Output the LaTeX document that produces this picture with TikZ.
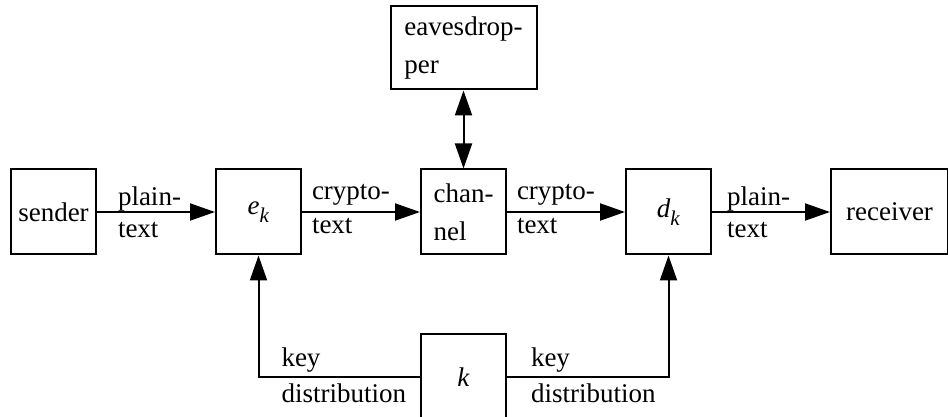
\documentclass[tikz,border=0pt]{standalone}
\usepackage{fontspec}
\setmainfont{Liberation Serif}
\usepackage{tikz}
\usetikzlibrary{arrows.meta,positioning,calc}

\begin{document}
\begin{tikzpicture}[node distance=59pt, line width=1pt,
  font=\fontsize{13.5}{19}\selectfont,
  box_style/.style={draw=black, line width=1pt, minimum width=42.5pt, minimum height=42.5pt, inner sep=2pt, align=left},
  label_style/.style={anchor=base west, inner sep=0pt},
  arrow_style/.style={draw=black, line width=1pt, -{Triangle[length=12.5pt,width=8.5pt]}},
  both_style/.style={draw=black, line width=1pt, {Triangle[length=12.5pt,width=8.5pt]}-{Triangle[length=12.5pt,width=8.5pt]}}]

  \node (snd) [box_style] {sender};
  \node (ek) [box_style, right=of snd] {\textit{e}\raisebox{-4pt}{\fontsize{10.5}{10.5}\selectfont\textit{k}}};
  \node (ch) [box_style, right=of ek] {chan-\\nel};
  \node (dk) [box_style, right=of ch] {\textit{d}\raisebox{-4pt}{\fontsize{10.5}{10.5}\selectfont\textit{k}}};
  \node (rcv) [box_style, minimum width=58.5pt, right=of dk] {receiver};
  \node (eve) [box_style, minimum width=73pt, minimum height=41.5pt, above=39pt of ch] {eavesdrop-\\per};
  \node (kd) [box_style, below=39pt of ch] {\textit{k}};
  %
  \draw [arrow_style] (snd) -- node[label_style, pos=0, xshift=10pt, yshift=3.25pt]{plain-} node[label_style, pos=0, xshift=10pt, yshift=-13pt]{text} (ek);
  \draw [arrow_style] (ek) -- node[label_style, pos=0, xshift=4.5pt, yshift=6pt]{crypto-} node[label_style, pos=0, xshift=4.5pt, yshift=-11pt]{text} (ch);
  \draw [arrow_style] (ch) -- node[label_style, pos=0, xshift=4.5pt, yshift=6pt]{crypto-} node[label_style, pos=0, xshift=4.5pt, yshift=-11pt]{text} (dk);
  \draw [arrow_style] (dk) -- node[label_style, pos=0, xshift=7pt, yshift=3.25pt]{plain-} node[label_style, pos=0, xshift=7pt, yshift=-13pt]{text} (rcv);
  \draw [both_style] (eve) -- (ch);
  \draw [arrow_style] (kd) -| node[label_style, pos=0.5, xshift=11pt, yshift=5pt]{key} node[label_style, pos=0.5, xshift=11pt, yshift=-13pt]{distribution} (ek);
  \draw [arrow_style] (kd) -| node[label_style, pos=0, xshift=11.5pt, yshift=5pt]{key} node[label_style, pos=0, xshift=11.5pt, yshift=-13pt]{distribution} (dk);
  %
  \pgfresetboundingbox
  \useasboundingbox ($(snd.west |- kd.center)+(-5pt,-20pt)$) rectangle ++(474pt,208.5pt);
\end{tikzpicture}
\end{document}
